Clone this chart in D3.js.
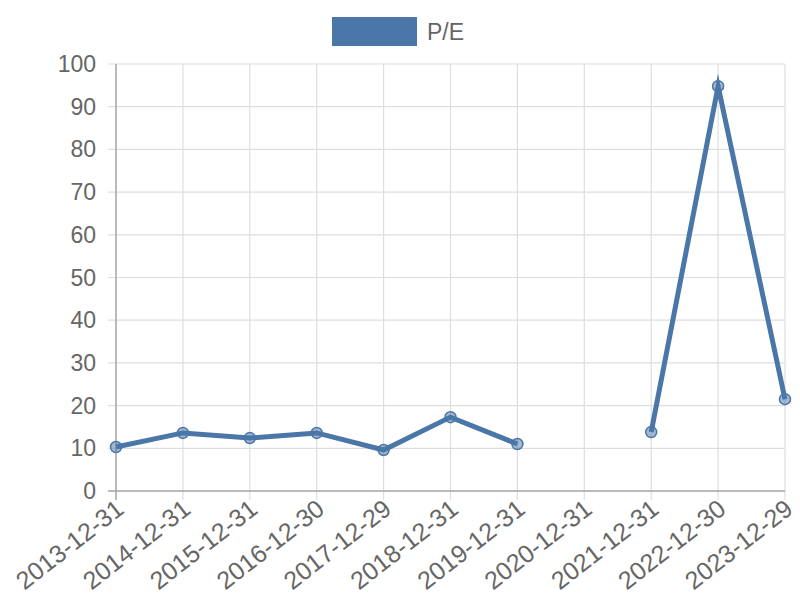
<!DOCTYPE html>
<html>
<head>
<meta charset="utf-8">
<script src="https://cdn.jsdelivr.net/npm/d3@7"></script>
<style>
  html, body { margin: 0; padding: 0; background: #fff; }
  svg { display: block; }
  text { font-family: "Liberation Sans", Arial, sans-serif; fill: #666; }
</style>
</head>
<body>
<svg id="chart" width="800" height="600"></svg>
<script>
const categories = ["2013-12-31","2014-12-31","2015-12-31","2016-12-30","2017-12-29","2018-12-31","2019-12-31","2020-12-31","2021-12-31","2022-12-30","2023-12-29"];
const peValues = [10.3, 13.6, 12.4, 13.6, 9.6, 17.3, 11.0, null, 13.8, 94.8, 21.5];
const yTicks = [0,10,20,30,40,50,60,70,80,90,100];
const seriesName = "P/E";

(function () {
const color = "#4a76a8";
const svg = d3.select("#chart");
const pLeft = 116, pRight = 785, pTop = 64, pBottom = 491;

const x = d3.scalePoint().domain(categories).range([pLeft, pRight]);
const y = d3.scaleLinear().domain([0, 100]).range([pBottom, pTop]);

// horizontal grid
svg.append("g").selectAll("line").data(yTicks).join("line")
  .attr("x1", pLeft - 8).attr("x2", pRight)
  .attr("y1", d => y(d)).attr("y2", d => y(d))
  .attr("stroke", "#dedede").attr("stroke-width", 1.2);

// vertical grid
svg.append("g").selectAll("line").data(categories).join("line")
  .attr("x1", d => x(d)).attr("x2", d => x(d))
  .attr("y1", pTop).attr("y2", pBottom + 9)
  .attr("stroke", "#dedede").attr("stroke-width", 1.2);

// axes on top
svg.append("line").attr("x1", pLeft - 8).attr("x2", pRight).attr("y1", pBottom).attr("y2", pBottom)
  .attr("stroke", "#aaa").attr("stroke-width", 1.5);
svg.append("line").attr("x1", pLeft).attr("x2", pLeft).attr("y1", pTop).attr("y2", pBottom + 9)
  .attr("stroke", "#aaa").attr("stroke-width", 1.5);

// y labels
svg.append("g").selectAll("text").data(yTicks).join("text")
  .attr("x", pLeft - 20).attr("y", d => y(d)).attr("dy", "0.35em")
  .attr("text-anchor", "end").attr("font-size", 23).text(d => d);

// x labels
svg.append("g").selectAll("text").data(categories).join("text")
  .attr("transform", d => `translate(${x(d) + 4},${pBottom + 14}) rotate(-38)`)
  .attr("text-anchor", "end").attr("dy", "0.35em").attr("font-size", 25).text(d => d);

// line
const pts = categories.map((c, i) => ({c, v: peValues[i]}));
const line = d3.line().defined(d => d.v !== null).x(d => x(d.c)).y(d => y(d.v));
svg.append("path").datum(pts).attr("d", line)
  .attr("fill", "none").attr("stroke", color).attr("stroke-width", 5)
  .attr("stroke-linejoin", "miter").attr("stroke-miterlimit", 10);

svg.append("g").selectAll("circle").data(pts.filter(d => d.v !== null)).join("circle")
  .attr("cx", d => x(d.c)).attr("cy", d => y(d.v)).attr("r", 5.5)
  .attr("fill", "rgba(74,118,168,0.5)").attr("stroke", color).attr("stroke-width", 1.5);

// legend
svg.append("rect").attr("x", 332).attr("y", 17).attr("width", 85).attr("height", 29)
  .attr("fill", color);
svg.append("text").attr("x", 427).attr("y", 32).attr("dy", "0.35em")
  .attr("font-size", 23).text(seriesName);
})();
</script>
</body>
</html>
